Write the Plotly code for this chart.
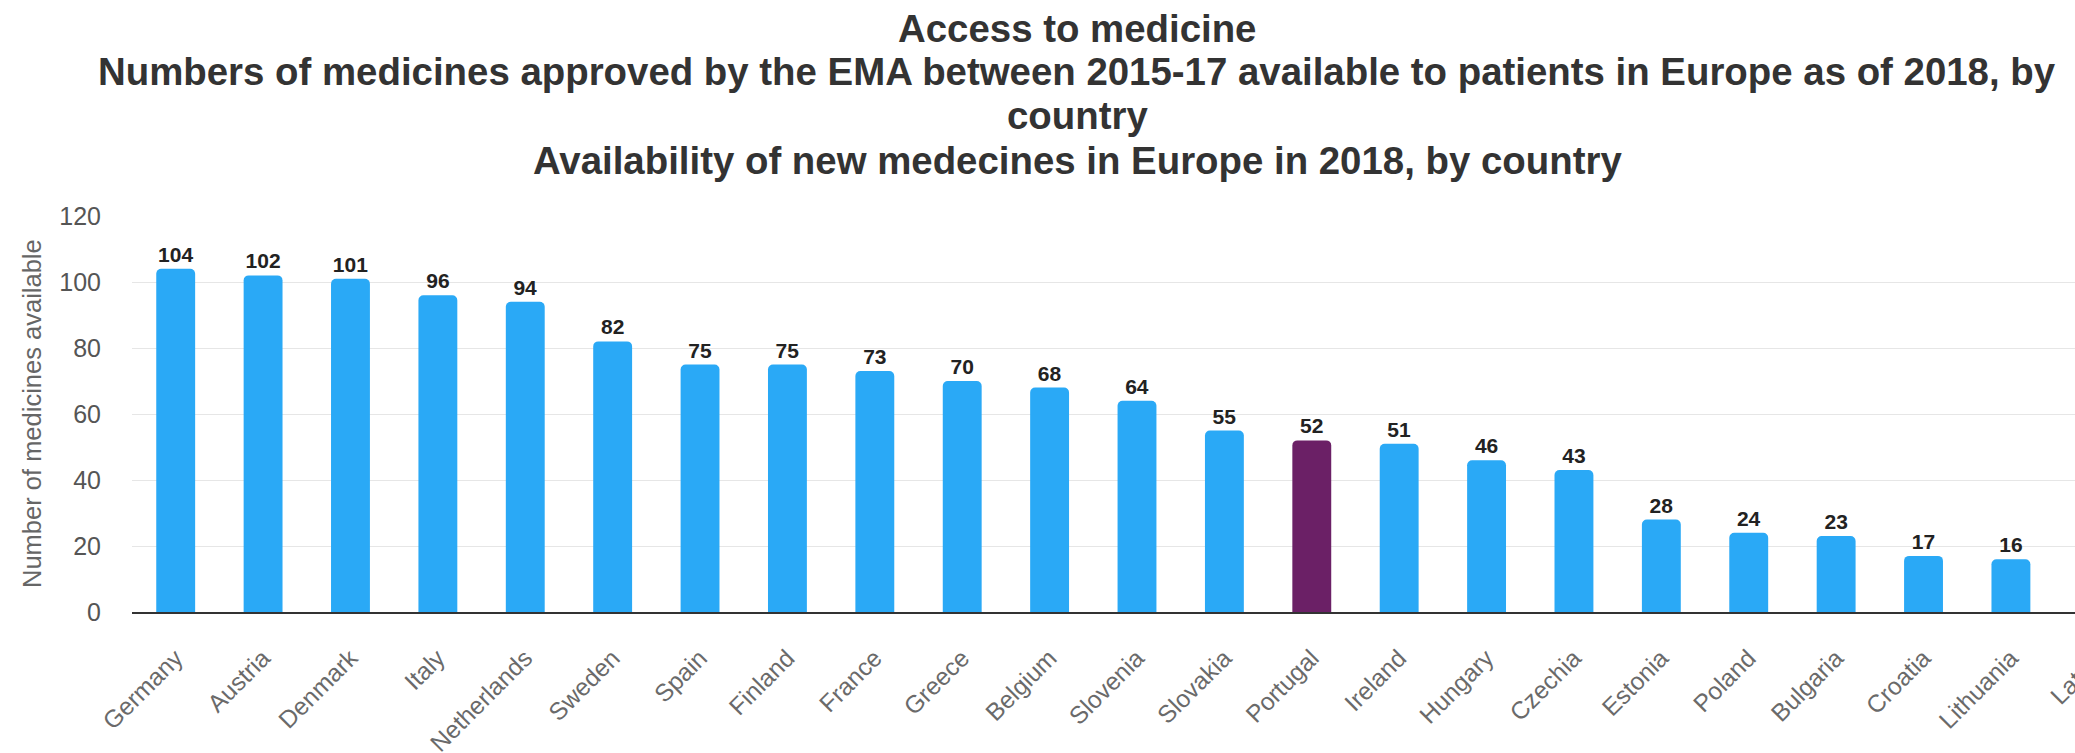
import plotly.graph_objects as go

# Medicines approved by the EMA in 2015-17 that were available in 2018
countries = [
    "Germany", "Austria", "Denmark", "Italy", "Netherlands", "Sweden", "Spain",
    "Finland", "France", "Greece", "Belgium", "Slovenia", "Slovakia", "Portugal",
    "Ireland", "Hungary", "Czechia", "Estonia", "Poland", "Bulgaria", "Croatia",
    "Lithuania", "Latvia",
]
medicines = [
    104, 102, 101, 96, 94, 82, 75, 75, 73, 70, 68, 64, 55, 52,
    51, 46, 43, 28, 24, 23, 17, 16, None,
]
highlight = "Portugal"
y_ticks = [0, 20, 40, 60, 80, 100, 120]

title_lines = [
    "Access to medicine",
    "Numbers of medicines approved by the EMA between 2015-17 available "
    "to patients in Europe as of 2018, by",
    "country",
    "Availability of new medecines in Europe in 2018, by country",
]

BLUE = "#2AA9F6"
PURPLE = "#6B2066"
FONT = "Liberation Sans, Arial, sans-serif"
colors = [PURPLE if c == highlight else BLUE for c in countries]

# plot-area geometry in pixels (used to place the heading lines)
W, H = 2154, 753
M_L, M_R, M_T, M_B = 132, 12, 216, 141
plot_w = W - M_L - M_R
plot_h = H - M_T - M_B


def px_to_paper_y(py):
    return (H - M_B - py) / plot_h


def px_to_paper_x(px):
    return (px - M_L) / plot_w


fig = go.Figure(
    go.Bar(
        x=countries,
        y=medicines,
        marker=dict(color=colors, cornerradius=5, line=dict(width=0)),
        text=[("" if v is None else str(v)) for v in medicines],
        textposition="outside",
        textfont=dict(family=FONT, size=21, color="#222222", weight="bold"),
        constraintext="none",
        cliponaxis=False,
        hoverinfo="x+y",
    )
)

# heading: four centred bold lines
line_centres = [28, 71, 116, 160]
annotations = [
    dict(
        text=t,
        xref="paper", yref="paper",
        x=px_to_paper_x(1077), y=px_to_paper_y(cy),
        xanchor="center", yanchor="middle",
        showarrow=False,
        font=dict(family=FONT, size=38.4, color="#333333", weight="bold"),
    )
    for t, cy in zip(title_lines, line_centres)
]
annotations.append(
    dict(
        text="Number of medicines available",
        xref="paper", yref="paper",
        x=px_to_paper_x(32), y=0.5,
        xanchor="center", yanchor="middle",
        textangle=-90,
        showarrow=False,
        font=dict(family=FONT, size=25.5, color="#666666"),
    )
)

fig.update_layout(
    width=W,
    height=H,
    autosize=False,
    margin=dict(l=M_L, r=M_R, t=M_T, b=M_B, autoexpand=False),
    paper_bgcolor="white",
    plot_bgcolor="white",
    bargap=0.555,
    showlegend=False,
    font=dict(family=FONT, color="#555555"),
    xaxis=dict(
        type="category",
        range=[-0.5, len(countries) - 0.5],
        tickangle=-45,
        tickfont=dict(size=24.5, color="#6A6A6A"),
        showline=True,
        linecolor="#333333",
        linewidth=2,
        showgrid=False,
        ticks="",
        ticklabelstandoff=20,
        automargin=False,
        fixedrange=True,
    ),
    yaxis=dict(
        range=[0, 120],
        tickvals=y_ticks,
        tickfont=dict(size=25, color="#555555"),
        showgrid=True,
        gridcolor="#E6E6E6",
        gridwidth=1,
        zeroline=False,
        ticks="",
        ticklabelstandoff=30,
        automargin=False,
        fixedrange=True,
    ),
    annotations=annotations,
)

fig.write_html("out.html")
